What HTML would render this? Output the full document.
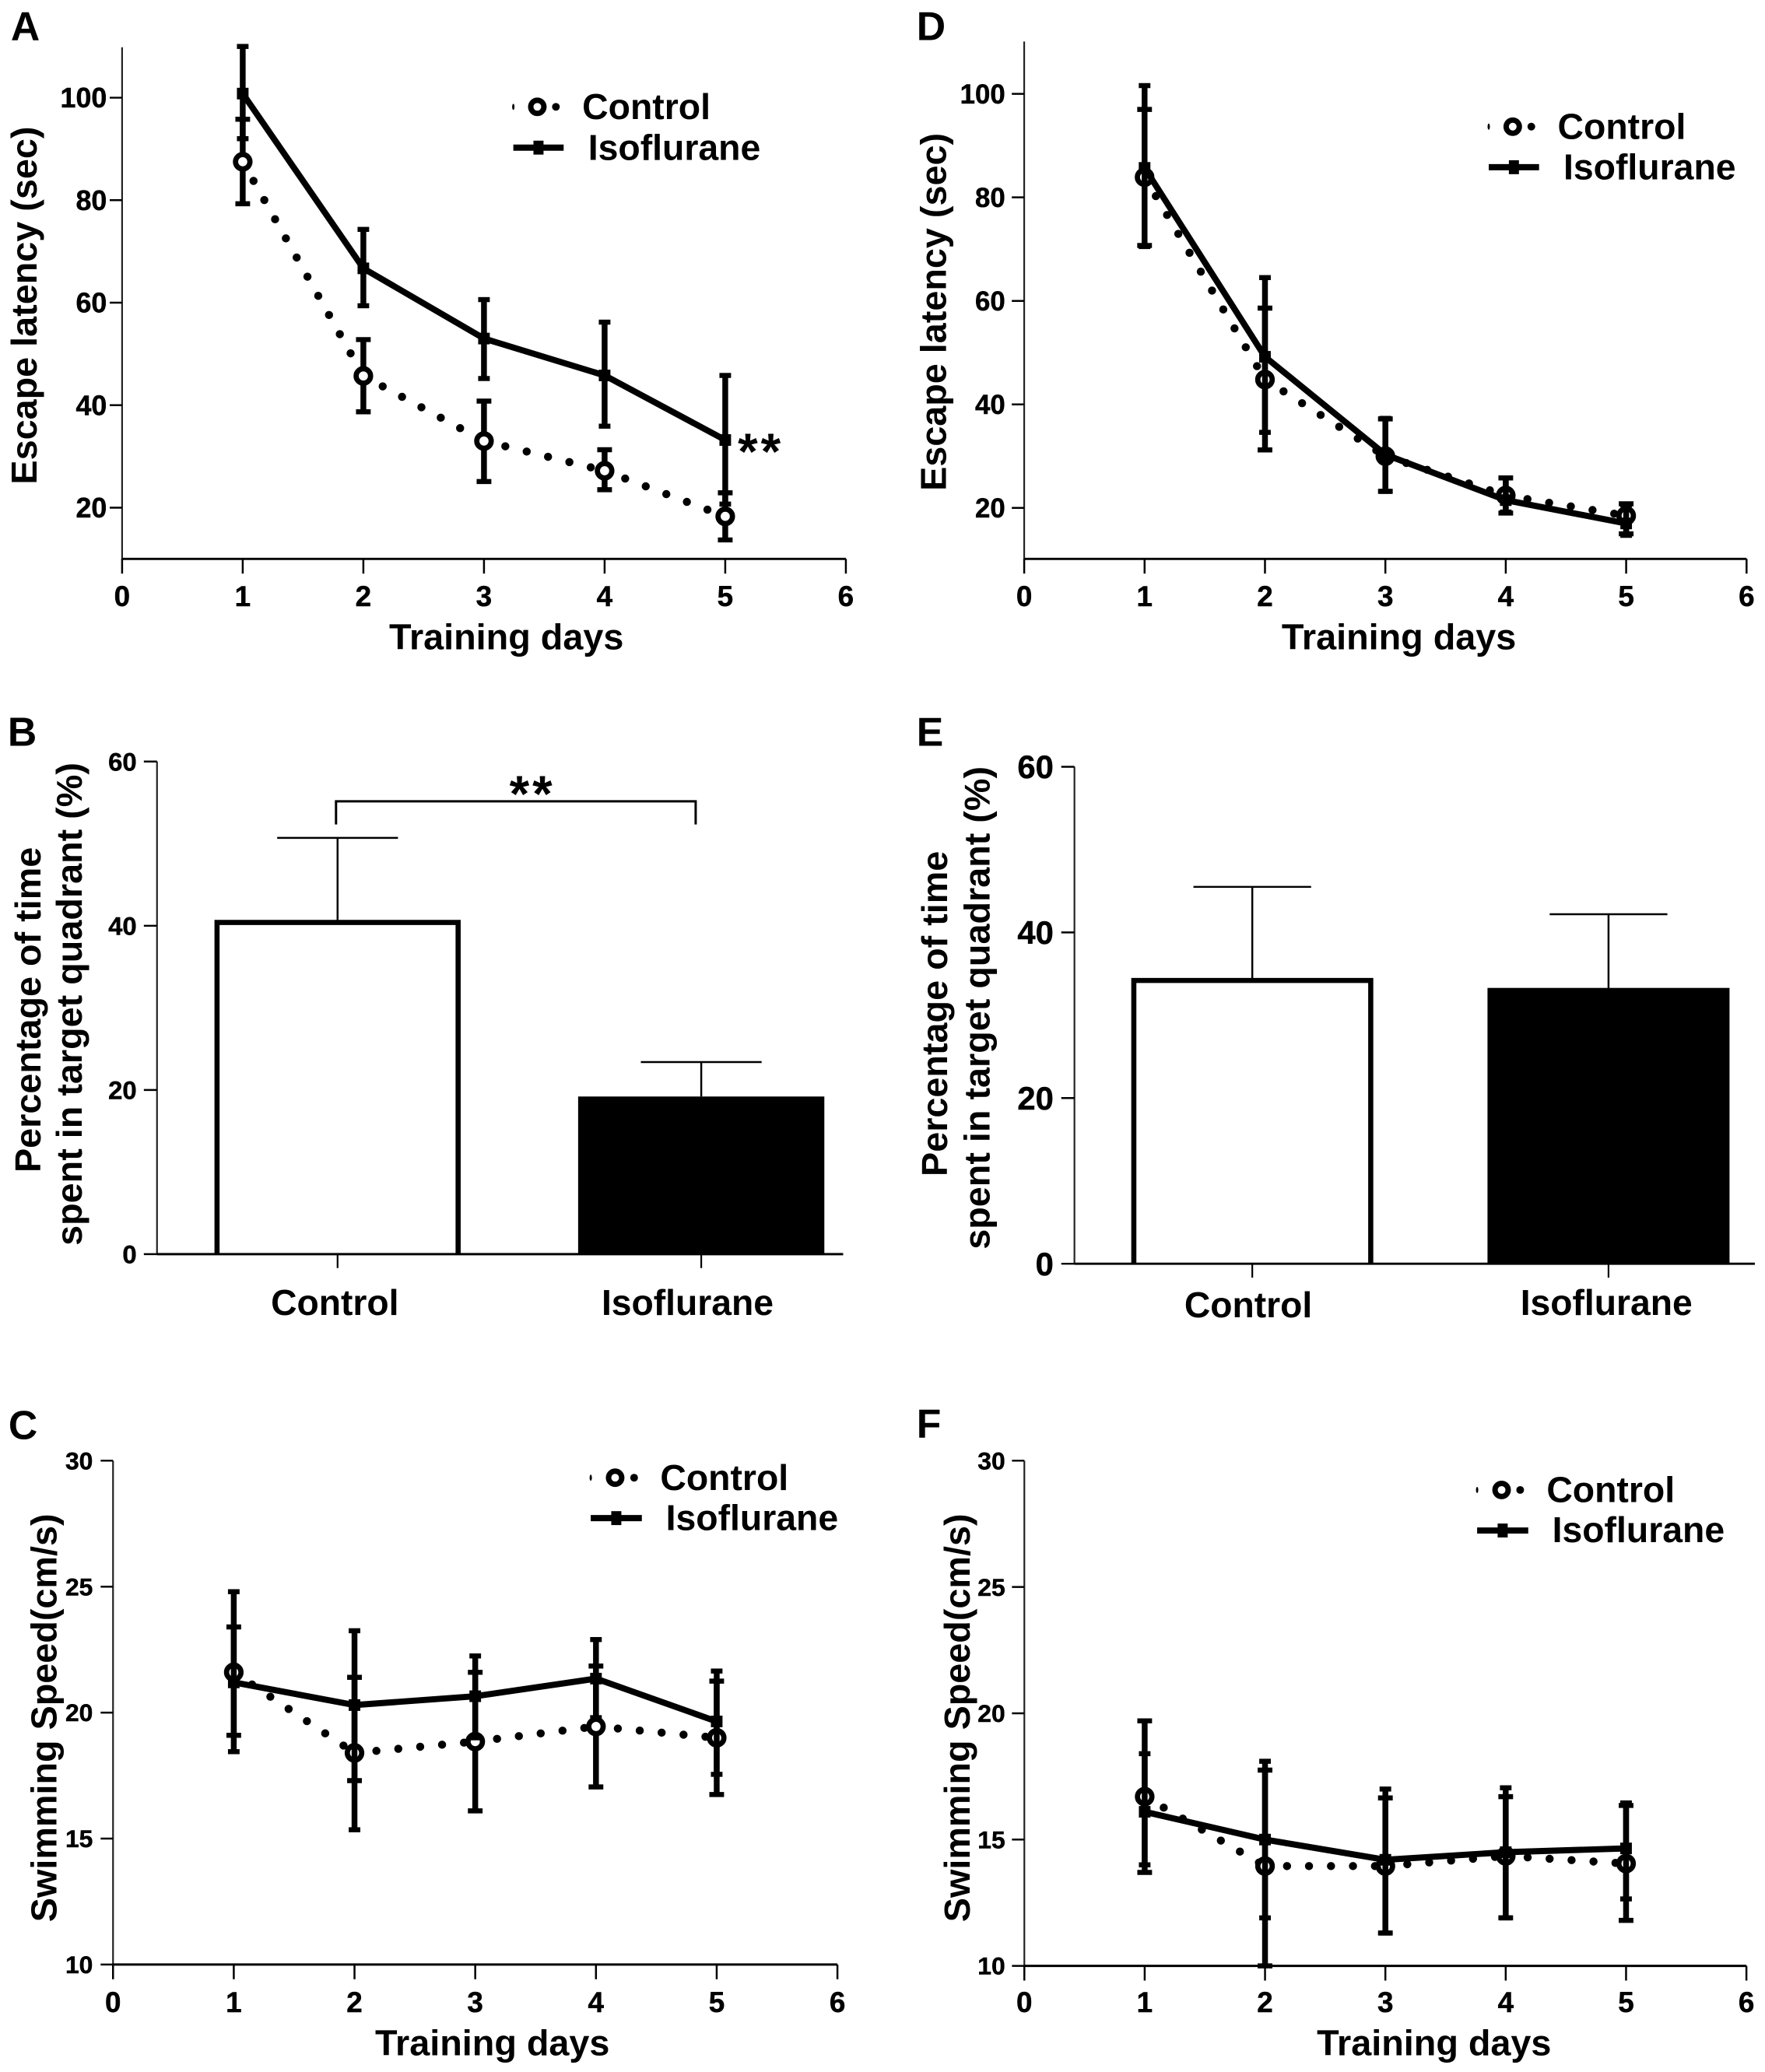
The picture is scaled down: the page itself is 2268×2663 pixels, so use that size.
<!DOCTYPE html>
<html lang="en">
<head>
<meta charset="utf-8">
<title>Escape latency, target quadrant time and swimming speed panels</title>
<style>
html,body{margin:0;padding:0;background:#fff;}
svg{display:block;}
text{font-family:"Liberation Sans",Arial,sans-serif;font-weight:bold;fill:#000;}
.title{font-size:47px;}
.legend{font-size:46.6px;}
.bar-label{font-size:46.5px;}
.panel-letter{font-size:52px;}
.stars{font-size:66px;letter-spacing:4px;}
</style>
</head>
<body>
<svg id="figure" xmlns="http://www.w3.org/2000/svg" width="2268" height="2663" viewBox="0 0 2268 2663">
<rect x="0" y="0" width="2268" height="2663" fill="#fff"/>

<g id="panel-a" transform="scale(0.9949)">
  <text class="panel-letter" x="14" y="52">A</text>
  <text class="title" text-anchor="middle" transform="translate(47,394.6) rotate(-90)">Escape latency (sec)</text>
  <text class="title" text-anchor="middle" x="654" y="839">Training days</text>
  <text class="stars" x="953" y="606">**</text>
  <g>
    <ellipse cx="663" cy="138" rx="1.5" ry="4"/>
    <circle cx="694" cy="138" r="8.5" fill="#fff" stroke="#000" stroke-width="7"/>
    <circle cx="718" cy="138" r="5"/>
    <text class="legend" x="752" y="154">Control</text>
    <line x1="663" y1="190.7" x2="728" y2="190.7" stroke="#000" stroke-width="8"/>
    <rect x="689" y="181.7" width="13" height="18"/>
    <text class="legend" x="759.6" y="206.5">Isoflurane</text>
  </g>
</g>

<g id="panel-d" transform="translate(1134,0) scale(0.9949) translate(-1134,0)">
  <text class="panel-letter" x="1178" y="52">D</text>
  <text class="title" text-anchor="middle" transform="translate(1216,403) rotate(-90)">Escape latency (sec)</text>
  <text class="title" text-anchor="middle" x="1801" y="839">Training days</text>
  <g>
    <ellipse cx="1917" cy="163.6" rx="1.5" ry="4"/>
    <circle cx="1948" cy="163.6" r="8.5" fill="#fff" stroke="#000" stroke-width="7"/>
    <circle cx="1972" cy="163.6" r="5"/>
    <text class="legend" x="2006" y="179.4">Control</text>
    <line x1="1917" y1="216" x2="1982" y2="216" stroke="#000" stroke-width="8"/>
    <rect x="1943" y="207" width="13" height="18"/>
    <text class="legend" x="2013.5" y="231.8">Isoflurane</text>
  </g>
</g>

<g id="panel-b" transform="translate(0,880) scale(0.9949) translate(0,-880)">
  <text class="panel-letter" x="10" y="959">B</text>
  <text class="title" text-anchor="middle" transform="translate(52.3,1300) rotate(-90)">Percentage of time</text>
  <text class="title" text-anchor="middle" transform="translate(105.4,1292.6) rotate(-90)">spent in target quadrant (%)</text>
  <text class="bar-label" text-anchor="middle" x="432.5" y="1694">Control</text>
  <text class="bar-label" text-anchor="middle" x="888" y="1694">Isoflurane</text>
  <path d="M434 1060.5V1030.6H898.5V1060.5" fill="none" stroke="#000" stroke-width="3"/>
  <text class="stars" x="658" y="1044">**</text>
</g>

<g id="panel-e" transform="translate(1134,880) scale(0.9949) translate(-1134,-880)">
  <text class="panel-letter" x="1178" y="959">E</text>
  <text class="title" text-anchor="middle" transform="translate(1217.6,1305) rotate(-90)">Percentage of time</text>
  <text class="title" text-anchor="middle" transform="translate(1272,1297.5) rotate(-90)">spent in target quadrant (%)</text>
  <text class="bar-label" text-anchor="middle" x="1606.5" y="1697">Control</text>
  <text class="bar-label" text-anchor="middle" x="2069" y="1694">Isoflurane</text>
</g>

<g id="panel-c" transform="translate(0,1783) scale(0.9949) translate(0,-1783)">
  <text class="panel-letter" x="11" y="1850">C</text>
  <text class="title" text-anchor="middle" transform="translate(72.7,2210) rotate(-90)">Swimming Speed(cm/s)</text>
  <text class="title" text-anchor="middle" x="636" y="2646">Training days</text>
  <g>
    <ellipse cx="763" cy="1899.8" rx="1.5" ry="4"/>
    <circle cx="794.5" cy="1899.8" r="8.5" fill="#fff" stroke="#000" stroke-width="7"/>
    <circle cx="819" cy="1899.8" r="5"/>
    <text class="legend" x="852.7" y="1915.6">Control</text>
    <line x1="763" y1="1952" x2="829" y2="1952" stroke="#000" stroke-width="8"/>
    <rect x="789.5" y="1943" width="13" height="18"/>
    <text class="legend" x="860" y="1967.5">Isoflurane</text>
  </g>
</g>

<g id="panel-f" transform="translate(1134,1783) scale(0.9949) translate(-1134,-1783)">
  <text class="panel-letter" x="1178" y="1848">F</text>
  <text class="title" text-anchor="middle" transform="translate(1246.7,2210) rotate(-90)">Swimming Speed(cm/s)</text>
  <text class="title" text-anchor="middle" x="1846.4" y="2646">Training days</text>
  <g>
    <ellipse cx="1902" cy="1915.6" rx="1.5" ry="4"/>
    <circle cx="1933.6" cy="1915.6" r="8.5" fill="#fff" stroke="#000" stroke-width="7"/>
    <circle cx="1957.6" cy="1915.6" r="5"/>
    <text class="legend" x="1991.7" y="1931.4">Control</text>
    <line x1="1902" y1="1968" x2="1968" y2="1968" stroke="#000" stroke-width="8"/>
    <rect x="1928.5" y="1959" width="13" height="18"/>
    <text class="legend" x="1999" y="1983">Isoflurane</text>
  </g>
</g>
</svg>

<script>
/* ---------- shared categories and tick labels ---------- */
const days = [1, 2, 3, 4, 5];
const dayTicks = [0, 1, 2, 3, 4, 5, 6];
const latencyTicks = [20, 40, 60, 80, 100];
const speedTicks = [10, 15, 20, 25, 30];
const percentTicks = [0, 20, 40, 60];

/* ---------- Panel A: escape latency ---------- */
const aControl = [87.5, 45.7, 33.0, 27.2, 18.3];
const aControlUpper = [95.8, 52.8, 40.8, 31.3, 22.9];
const aControlLower = [79.3, 38.7, 25.1, 23.5, 13.7];
const aIso = [100.8, 66.7, 53.0, 45.8, 33.2];
const aIsoUpper = [110.0, 74.3, 60.6, 56.2, 45.8];
const aIsoLower = [92.0, 59.4, 45.2, 35.9, 20.7];

/* ---------- Panel D: escape latency ---------- */
const dControl = [83.9, 44.8, 30.0, 22.4, 18.5];
const dControlUpper = [97.0, 58.6, 37.2, 25.8, 20.8];
const dControlLower = [70.7, 31.2, 23.2, 19.0, 15.0];
const dIso = [85.7, 49.2, 30.3, 21.5, 17.0];
const dIsoUpper = [101.6, 64.5, 37.3, 25.8, 20.6];
const dIsoLower = [70.5, 34.6, 23.2, 19.2, 14.7];

/* ---------- Panel C: swimming speed ---------- */
const cControl = [21.6, 18.4, 18.85, 19.45, 19.0];
const cControlUpper = [23.4, 21.4, 21.6, 21.85, 21.25];
const cControlLower = [19.1, 17.3, 16.1, 17.05, 16.75];
const cIso = [21.2, 20.3, 20.65, 21.35, 19.65];
const cIsoUpper = [24.8, 23.25, 22.25, 22.9, 21.65];
const cIsoLower = [18.45, 15.35, 19.0, 19.8, 17.55];

/* ---------- Panel F: swimming speed ---------- */
const fControl = [16.7, 13.95, 13.95, 14.35, 14.05];
const fControlUpper = [19.7, 17.75, 16.65, 16.7, 16.35];
const fControlLower = [13.7, 10.0, 11.3, 11.9, 11.8];
const fIso = [16.1, 15.0, 14.2, 14.5, 14.65];
const fIsoUpper = [18.4, 18.1, 17.0, 17.05, 16.45];
const fIsoLower = [14.0, 11.9, 11.3, 11.9, 12.65];

/* ---------- Panels B and E: bars ---------- */
const barCategories = ['Control', 'Isoflurane'];
const bMeans = [40.4, 19.2];
const bErrorTops = [50.7, 23.4];
const eMeans = [34.2, 33.3];
const eErrorTops = [45.5, 42.2];

const NS = 'http://www.w3.org/2000/svg';

function make(parent, tag, attrs, content) {
  const node = document.createElementNS(NS, tag);
  for (const key in attrs) node.setAttribute(key, attrs[key]);
  if (content !== undefined) node.textContent = content;
  parent.appendChild(node);
  return node;
}

function linear(d0, d1, r0, r1) {
  return function (v) { return r0 + (v - d0) * (r1 - r0) / (d1 - d0); };
}

function drawAxes(group, opt) {
  const x = opt.x;
  const y = opt.y;
  let el = make(group, 'line', {x1: opt.left, y1: opt.top, x2: opt.left, y2: opt.bottom + 1, stroke: '#222', 'stroke-width': 2.2});
  
  
  el = make(group, 'line', {x1: opt.left, y1: opt.bottom, x2: opt.right, y2: opt.bottom, stroke: '#000', 'stroke-width': 3});
  
  
  opt.yTicks.forEach(function (t) {
    let tick = make(group, 'line', {x1: opt.left - opt.yTickLen, y1: y(t), x2: opt.left, y2: y(t), stroke: '#000', 'stroke-width': 2.5});
    
    
    let label = make(group, 'text', {x: opt.yLabelRight, y: y(t) + opt.yLabelSize * 0.35, 'text-anchor': 'end', 'font-size': opt.yLabelSize, stroke: '#000', 'stroke-width': 0.5}, String(t));
    
    
  });
  if (opt.xTicks) {
    opt.xTicks.forEach(function (t) {
      let tick = make(group, 'line', {x1: x(t), y1: opt.bottom, x2: x(t), y2: opt.bottom + 19, stroke: '#000', 'stroke-width': 2.5});
      
      
      let label = make(group, 'text', {x: x(t), y: opt.xLabelY, 'text-anchor': 'middle', 'font-size': opt.xLabelSize, stroke: '#000', 'stroke-width': 0.5}, String(t));
      
      
    });
  }
}

function drawErrorBars(group, x, y, cats, upper, lower, capHalf) {
  cats.forEach(function (c, i) {
    const stem = make(group, 'line', {x1: x(c), y1: y(upper[i]), x2: x(c), y2: y(lower[i]), stroke: '#000', 'stroke-width': 7.5});
    
    
    const capTop = make(group, 'line', {x1: x(c) - capHalf, y1: y(upper[i]), x2: x(c) + capHalf, y2: y(upper[i]), stroke: '#000', 'stroke-width': 6.5});
    
    
    const capLow = make(group, 'line', {x1: x(c) - capHalf, y1: y(lower[i]), x2: x(c) + capHalf, y2: y(lower[i]), stroke: '#000', 'stroke-width': 6.5});
    
    
  });
}

function drawLinePanel(group, opt, control, controlUpper, controlLower, iso, isoUpper, isoLower) {
  const x = opt.x;
  const y = opt.y;
  drawAxes(group, opt);

  drawErrorBars(group, x, y, days, controlUpper, controlLower, 9.5);
  for (let i = 0; i + 1 < days.length; i++) {
    const seg = make(group, 'line', {x1: x(days[i]), y1: y(control[i]), x2: x(days[i + 1]), y2: y(control[i + 1]), stroke: '#000', 'stroke-width': 10.5, 'stroke-linecap': 'round', 'stroke-dasharray': '0 28.4'});
    
    
  }
  days.forEach(function (d, i) {
    const pt = make(group, 'circle', {cx: x(d), cy: y(control[i]), r: 9.3, fill: '#fff', stroke: '#000', 'stroke-width': 6.8});
    
    
  });

  drawErrorBars(group, x, y, days, isoUpper, isoLower, 7.5);
  const pts = days.map(function (d, i) { return x(d) + ',' + y(iso[i]); }).join(' ');
  const line = make(group, 'polyline', {points: pts, fill: 'none', stroke: '#000', 'stroke-width': 8, 'stroke-linejoin': 'round'});
  
  
  days.forEach(function (d, i) {
    const pt = make(group, 'rect', {x: x(d) - 7.5, y: y(iso[i]) - 7.5, width: 15, height: 15, fill: '#000'});
    
    
  });
}

function drawBarPanel(group, opt, means, errorTops) {
  const y = opt.y;
  const cx = opt.cx;
  means.forEach(function (m, i) {
    const c = cx(i);
    const err = make(group, 'line', {x1: c, y1: y(errorTops[i]), x2: c, y2: y(m), stroke: '#000', 'stroke-width': 2.5});
    
    
    const cap = make(group, 'line', {x1: c - opt.capHalf, y1: y(errorTops[i]), x2: c + opt.capHalf, y2: y(errorTops[i]), stroke: '#000', 'stroke-width': 2.5});
    
    
    if (i === 0) {
      const l = c - opt.barWidth / 2 + 3.3;
      const r = c + opt.barWidth / 2 - 3.3;
      const bar = make(group, 'path', {d: 'M' + l + ' ' + y(0) + 'V' + y(m) + 'H' + r + 'V' + y(0), fill: '#fff', stroke: '#000', 'stroke-width': 6.6});
      
      
    } else {
      const bar = make(group, 'rect', {x: c - opt.barWidth / 2, y: y(m), width: opt.barWidth, height: y(0) - y(m), fill: '#000'});
      
      
    }
    const tick = make(group, 'line', {x1: c, y1: y(0), x2: c, y2: y(0) + 18, stroke: '#000', 'stroke-width': 2.2});
    
    
  });
  drawAxes(group, opt);
}

drawLinePanel(document.getElementById('panel-a'), {
  x: linear(0, 6, 157.7, 1092.5), y: linear(10, 110, 722, 60),
  left: 157.7, right: 1092.5, top: 61, bottom: 722,
  yTicks: latencyTicks, xTicks: dayTicks, yTickLen: 16, yLabelRight: 138, yLabelSize: 36, xLabelY: 783, xLabelSize: 37
}, aControl, aControlUpper, aControlLower, aIso, aIsoUpper, aIsoLower);

drawLinePanel(document.getElementById('panel-d'), {
  x: linear(0, 6, 1317, 2250), y: linear(10, 110, 723, 54.4),
  left: 1317, right: 2250, top: 53.6, bottom: 722,
  yTicks: latencyTicks, xTicks: dayTicks, yTickLen: 16, yLabelRight: 1292.5, yLabelSize: 35, xLabelY: 783, xLabelSize: 37
}, dControl, dControlUpper, dControlLower, dIso, dIsoUpper, dIsoLower);

drawLinePanel(document.getElementById('panel-c'), {
  x: linear(0, 6, 146, 1081.6), y: linear(10, 30, 2528.7, 1877.8),
  left: 146, right: 1081.6, top: 1877.8, bottom: 2528.7,
  yTicks: speedTicks, xTicks: dayTicks, yTickLen: 16, yLabelRight: 120, yLabelSize: 32, xLabelY: 2590, xLabelSize: 37
}, cControl, cControlUpper, cControlLower, cIso, cIsoUpper, cIsoLower);

drawLinePanel(document.getElementById('panel-f'), {
  x: linear(0, 6, 1317.2, 2249.8), y: linear(10, 30, 2530.4, 1877.8),
  left: 1317.2, right: 2249.8, top: 1877.8, bottom: 2530.4,
  yTicks: speedTicks, xTicks: dayTicks, yTickLen: 16, yLabelRight: 1292.5, yLabelSize: 32, xLabelY: 2590, xLabelSize: 37
}, fControl, fControlUpper, fControlLower, fIso, fIsoUpper, fIsoLower);

drawBarPanel(document.getElementById('panel-b'), {
  y: linear(0, 60, 1615.6, 979.3), cx: linear(0, 1, 436, 905.7), barWidth: 318, capHalf: 78,
  left: 202.8, right: 1089, top: 979.3, bottom: 1615.6,
  yTicks: percentTicks, yTickLen: 17, yLabelRight: 176.6, yLabelSize: 33
}, bMeans, bErrorTops);

drawBarPanel(document.getElementById('panel-e'), {
  y: linear(0, 60, 1628, 986), cx: linear(0, 1, 1611.6, 2071.7), barWidth: 312.6, capHalf: 76,
  left: 1381.9, right: 2260.7, top: 986, bottom: 1628,
  yTicks: percentTicks, yTickLen: 17, yLabelRight: 1355, yLabelSize: 42
}, eMeans, eErrorTops);
</script>
</body>
</html>
